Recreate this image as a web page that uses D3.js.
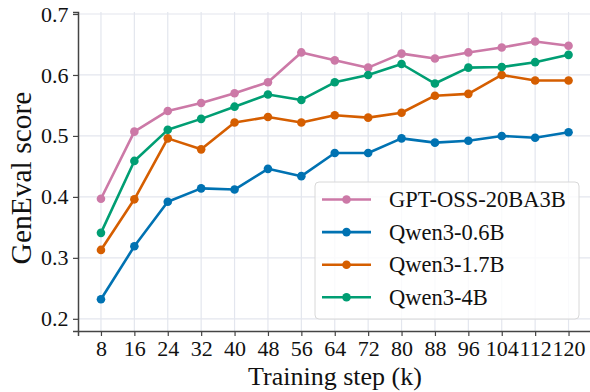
<!DOCTYPE html>
<html>
<head>
<meta charset="utf-8">
<script src="https://cdn.jsdelivr.net/npm/d3@7"></script>
<style>
  body { margin: 0; background: #fff; }
  text { font-family: "Liberation Serif", "Times New Roman", serif; fill: #111; }
</style>
</head>
<body>
<div id="chart"></div>
<script>
// training steps (k)
const steps = [8, 16, 24, 32, 40, 48, 56, 64, 72, 80, 88, 96, 104, 112, 120];
const yTicks = [0.2, 0.3, 0.4, 0.5, 0.6, 0.7];

const gptOss = [0.397, 0.507, 0.541, 0.554, 0.570, 0.588, 0.637, 0.624, 0.612, 0.635, 0.627, 0.637, 0.645, 0.655, 0.648];
const qwen06 = [0.232, 0.319, 0.392, 0.414, 0.412, 0.446, 0.434, 0.472, 0.472, 0.496, 0.489, 0.492, 0.500, 0.497, 0.506];
const qwen17 = [0.313, 0.396, 0.496, 0.478, 0.522, 0.531, 0.522, 0.534, 0.530, 0.538, 0.566, 0.569, 0.600, 0.591, 0.591];
const qwen4  = [0.341, 0.459, 0.510, 0.528, 0.548, 0.568, 0.559, 0.588, 0.600, 0.618, 0.586, 0.612, 0.613, 0.621, 0.633];

const seriesNames = ["GPT-OSS-20BA3B", "Qwen3-0.6B", "Qwen3-1.7B", "Qwen3-4B"];
const seriesVals = [gptOss, qwen06, qwen17, qwen4];
const colors = ["#CC79A7", "#0072B2", "#D55E00", "#009E73"];

const serif = "'Liberation Serif', 'Times New Roman', serif";

var width = 590, height = 392;
var svg = d3.select("#chart").append("svg")
    .attr("width", width)
    .attr("height", height);

// scales (plot area runs a bit past the right edge, like the original)
var x = d3.scaleLinear().domain([2.5, 125.5]).range([78, 591.5]);
var y = d3.scaleLinear().domain([0.18, 0.7033]).range([331, 12]);

// grid
var grid = svg.append("g");
grid.selectAll(".vg").data(steps).enter().append("line")
    .attr("x1", d => x(d)).attr("x2", d => x(d))
    .attr("y1", y.range()[0]).attr("y2", y.range()[1])
    .style("stroke", "#e3e6ee").style("stroke-width", 1.2);
grid.selectAll(".hg").data(yTicks).enter().append("line")
    .attr("x1", x.range()[0]).attr("x2", x.range()[1])
    .attr("y1", d => y(d)).attr("y2", d => y(d))
    .style("stroke", "#e3e6ee").style("stroke-width", 1.2);

// axes
var xAxis = svg.append("g")
    .attr("transform", "translate(0," + y.range()[0] + ")")
    .call(d3.axisBottom(x).tickValues(steps).tickSize(5).tickPadding(4).tickFormat(d3.format("d")));
var yAxis = svg.append("g")
    .attr("transform", "translate(" + x.range()[0] + ",0)")
    .call(d3.axisLeft(y).tickValues(yTicks).tickSize(5).tickPadding(4.5).tickFormat(d3.format(".1f")));

[xAxis, yAxis].forEach(a => {
  a.attr("font-family", serif).attr("font-size", 22);
  a.select(".domain").style("stroke", "#444").style("stroke-width", 1.5);
  a.selectAll(".tick line").style("stroke", "#444").style("stroke-width", 1.2);
  a.selectAll(".tick text")
    .attr("font-family", serif)
    .style("font-family", serif)
    .style("font-size", "22px")
    .style("fill", "#111");
});

// axis titles
svg.append("text")
    .attr("x", 335).attr("y", 384.5)
    .attr("text-anchor", "middle")
    .style("font-family", serif)
    .style("font-size", "26px")
    .text("Training step (k)");
svg.append("text")
    .attr("transform", "translate(31,178) rotate(-90)")
    .attr("text-anchor", "middle")
    .style("font-family", serif)
    .style("font-size", "29.5px")
    .text("GenEval score");

// lines + markers
var line = d3.line()
    .x((d, i) => x(steps[i]))
    .y(d => y(d));

seriesVals.forEach((vals, k) => {
  var g = svg.append("g");
  g.append("path")
    .attr("d", line(vals))
    .style("fill", "none")
    .style("stroke", colors[k])
    .style("stroke-width", 2.6)
    .style("stroke-linejoin", "round");
  g.selectAll("circle").data(vals).enter().append("circle")
    .attr("cx", (d, i) => x(steps[i]))
    .attr("cy", d => y(d))
    .attr("r", 4.3)
    .style("fill", colors[k]);
});

// legend
var leg = svg.append("g");
leg.append("rect")
    .attr("x", 315).attr("y", 182)
    .attr("width", 264).attr("height", 137)
    .attr("rx", 4)
    .style("fill", "#fff").style("fill-opacity", 0.8)
    .style("stroke", "#d8d8d8").style("stroke-width", 1);
seriesNames.forEach((name, k) => {
  var ly = 199.5 + k * 32.6;
  leg.append("line")
    .attr("x1", 322).attr("x2", 371)
    .attr("y1", ly).attr("y2", ly)
    .style("stroke", colors[k]).style("stroke-width", 2.6);
  leg.append("circle")
    .attr("cx", 346.5).attr("cy", ly).attr("r", 4.3)
    .style("fill", colors[k]);
  leg.append("text")
    .attr("x", 389).attr("y", ly + 7.5)
    .style("font-family", serif)
    .style("font-size", "22.5px")
    .text(name);
});
</script>
</body>
</html>
